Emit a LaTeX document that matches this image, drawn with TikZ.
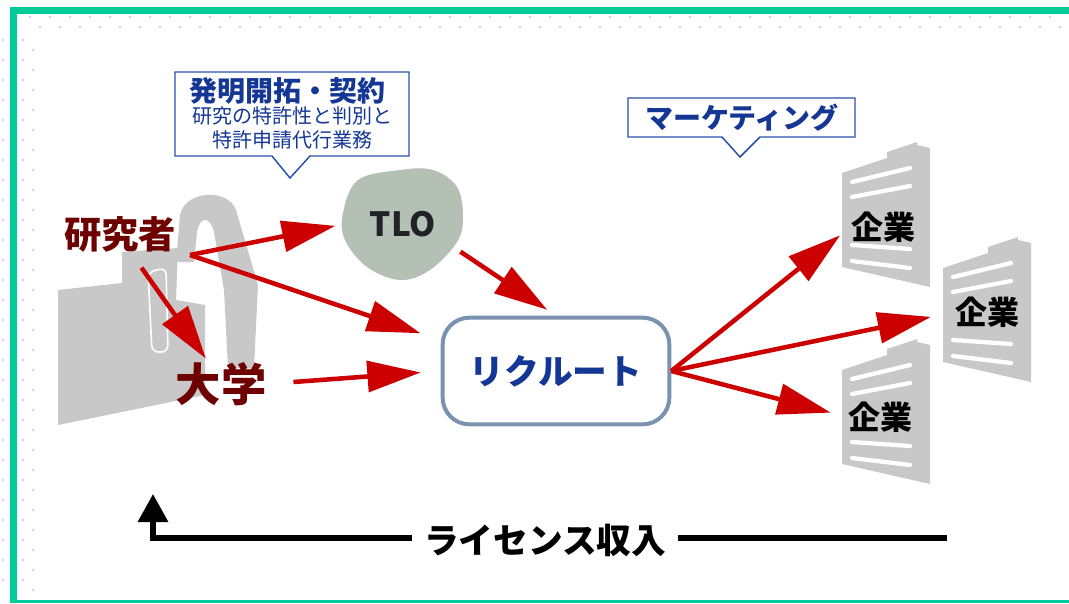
\documentclass[tikz,border=0pt]{standalone}
\usepackage{fontspec}
\newfontfamily\jpfont{Noto Sans CJK JP}
\usetikzlibrary{arrows.meta}

\definecolor{framegreen}{RGB}{0,204,153}
\definecolor{dotpink}{RGB}{245,185,238}
\definecolor{callblue}{RGB}{40,80,168}
\definecolor{textblue}{RGB}{20,55,150}
\definecolor{darkred}{RGB}{110,0,0}
\definecolor{arrowred}{RGB}{204,0,0}
\definecolor{silgray}{RGB}{200,200,200}
\definecolor{tlogray}{RGB}{181,192,181}
\definecolor{recborder}{RGB}{122,146,176}

\tikzset{every picture/.style={line width=0.75pt}}
\tikzset{
  redarrow/.style={draw=arrowred, line width=3.4pt, -{Triangle[length=40pt,width=23pt]}},
  payline/.style={draw=black, line width=4pt},
  callout/.style={draw=callblue, line width=1.1pt, fill=white, line join=miter},
  stripe/.style={draw=white, line width=3.2pt, line cap=round},
  redlabel/.style={text=darkred, inner sep=0pt, font=\jpfont\bfseries},
  bluelabel/.style={text=textblue, inner sep=0pt, font=\jpfont\bfseries},
  kigyo/.style={text=black, inner sep=0pt, font=\jpfont\bfseries\fontsize{24}{26}\selectfont},
  recbox/.style={draw=recborder, line width=3pt, fill=white, rounded corners=20pt,
    minimum width=170pt, minimum height=80pt, text=textblue,
    font=\jpfont\bfseries\fontsize{26}{28}\selectfont}
}

\begin{document}
\begin{tikzpicture}[x=0.75pt,y=0.75pt,yscale=-1,xscale=1]
\useasboundingbox (0,0) rectangle (1069,603);

%Frame
\fill[white] (0,0) rectangle (1069,603);
\fill[framegreen] (10,7) rectangle (1069,14);
\fill[framegreen] (10,7) rectangle (17,603);
\fill[framegreen] (10,600) rectangle (1069,603);
%Dots
\foreach \x in {30,50,...,1060} {
  \fill[dotpink] (\x,17) circle (1.3);
  \fill[dotpink] (\x+10,27) circle (1.3);
}
\foreach \y in {40,60,...,590} {
  \fill[dotpink] (3,\y) circle (1.3);
  \fill[dotpink] (23,\y) circle (1.3);
  \fill[dotpink] (33,\y+10) circle (1.3);
}

%Researcher figure
\fill[silgray] (58,290) -- (122,283) -- (122,252) -- (178,248) -- (176,300) -- (205,305) -- (205,395) -- (58,425) -- cycle;
\fill[silgray] (176,262) -- (180,215) .. controls (185,190) and (228,188) .. (236,210) -- (258,285) -- (254,368) -- (228,368) -- (224,290) -- (214,232) .. controls (210,216) and (200,216) .. (197,232) -- (194,262) -- cycle;
\draw[white, line width=1.2pt, fill=silgray, rounded corners=5] (148,272) -- (166,268) -- (168,352) -- (152,352) -- cycle;

%Buildings
\foreach \bx/\by in {842/173,943/268,842/370} {
  \fill[silgray] (\bx,\by) -- ++(45,-15) -- ++(0,-6) -- ++(30,-10) -- ++(0,3) -- ++(13,3) -- ++(0,139) -- ++(-88,-20) -- cycle;
  \foreach \ya/\yb in {9/-5,24/13,72/76,88/95}
    \draw[stripe] ({\bx+10},{\by+\ya}) -- ({\bx+68},{\by+\yb});
}

%Callouts
\draw[callout] (175,72) -- (409,72) -- (409,156) -- (310,156) -- (290,178) -- (272,156) -- (175,156) -- cycle;
\draw[callout] (628,98) -- (855,98) -- (855,137) -- (760,137) -- (740,157) -- (722,137) -- (628,137) -- cycle;

%TLO blob
\fill[tlogray] plot[smooth cycle, tension=0.6] coordinates {(358,180) (400,170) (433,170) (457,187) (463,217) (457,242) (430,270) (400,280) (367,267) (345,240) (343,213)};

%Nodes
\node[bluelabel, font=\jpfont\bfseries\fontsize{21}{24}\selectfont] (invent) at (287,91) {発明開拓・契約};
\node[bluelabel, font=\jpfont\fontsize{15}{17.5}\selectfont, align=center] (patent) at (292,128) {研究の特許性と判別と\\特許申請代行業務};
\node[bluelabel, font=\jpfont\bfseries\fontsize{21}{24}\selectfont] (market) at (742,118) {マーケティング};
\node[circle, minimum size=87pt, inner sep=0pt, text={rgb,255:red,30;green,35;blue,40}, font=\jpfont\bfseries\fontsize{25}{27}\selectfont] (tlo) at (403,224) {TLO};
\node[redlabel, font=\jpfont\bfseries\fontsize{28}{30}\selectfont] (kenkyu) at (120,234) {研究者};
\node[redlabel, font=\jpfont\bfseries\fontsize{34}{36}\selectfont] (daigaku) at (221,384) {大学};
\node[recbox] (rec) at (556,371) {リクルート};
\node[kigyo] (k1) at (883,227) {企業};
\node[kigyo] (k2) at (987,312) {企業};
\node[kigyo] (k3) at (880,417) {企業};
\node[inner sep=9pt, font=\jpfont\bfseries\fontsize{26}{28}\selectfont] (lic) at (545,540) {ライセンス収入};
\coordinate (fork) at (190,255);
\coordinate (licr) at (947,538);
\coordinate (licl) at (153,494);

%Red arrows
\draw[redarrow, shorten >=7pt] (fork) -- (tlo.west);
\draw[redarrow, shorten >=16pt] (fork) -- (rec.165);
\draw[redarrow, shorten <=14pt, shorten >=3pt] (kenkyu.-60) -- (daigaku.120);
\draw[redarrow, shorten <=20pt, shorten >=15pt] (daigaku.east) -- (rec.west);
\draw[redarrow, shorten <=4pt, shorten >=8pt] (tlo.-25) -- (rec.north);
\draw[redarrow, shorten >=10pt] (rec.east) -- (k1.west);
\draw[redarrow, shorten >=18pt] (rec.east) -- (k2.west);
\draw[redarrow, shorten >=13pt] (rec.east) -- (k3.west);

%License income
\draw[payline] (lic.east |- licr) -- (licr);
\draw[payline, -{Triangle[length=21pt,width=22pt]}] (lic.west |- licr) -| (licl);

\end{tikzpicture}
\end{document}
